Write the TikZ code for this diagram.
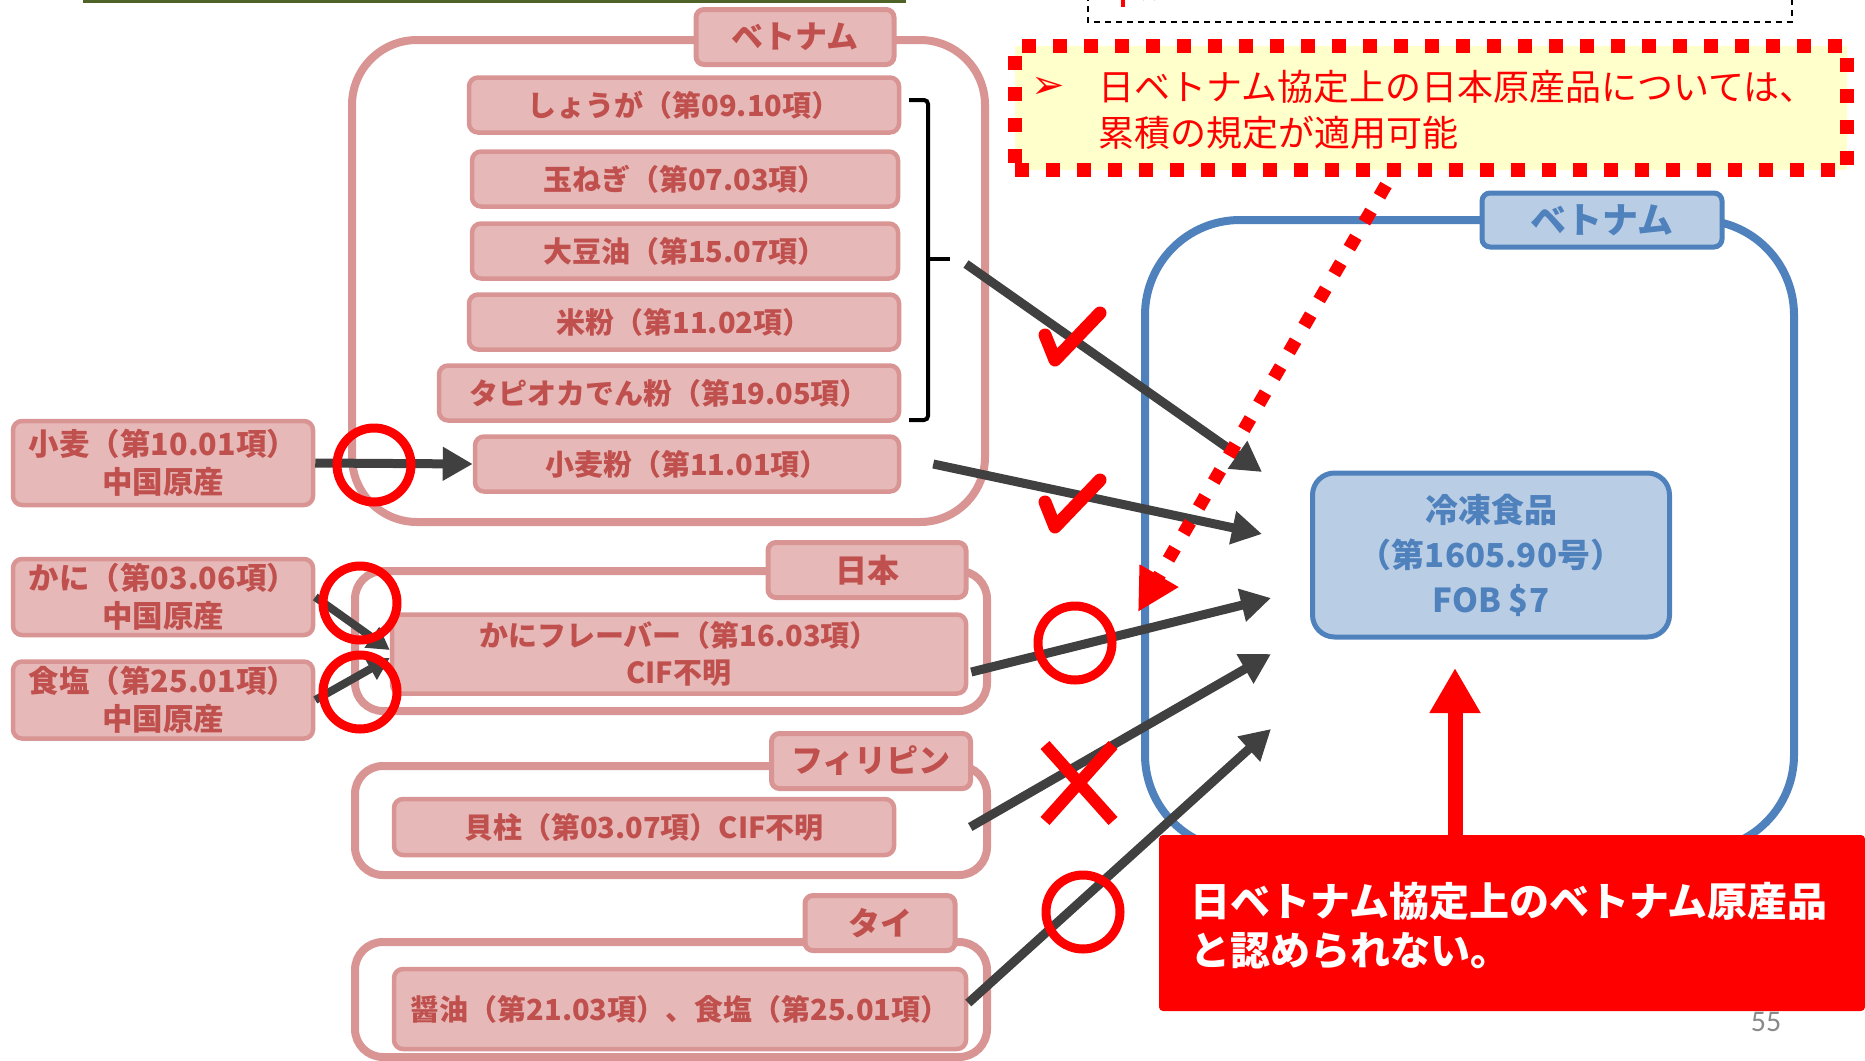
\documentclass[tikz,border=0pt]{standalone}
\usepackage{fontspec}
\setmainfont{Noto Sans CJK JP}
\newfontfamily\dingfont{DejaVu Sans}
\newfontfamily\pagefont{Carlito}
\usetikzlibrary{arrows.meta}
\definecolor{pinkline}{HTML}{D99594}
\definecolor{pinkfill}{HTML}{E6B9B8}
\definecolor{pinktext}{HTML}{C0504D}
\definecolor{blueline}{HTML}{4F81BD}
\definecolor{bluefill}{HTML}{B9CDE5}
\definecolor{arrowgray}{HTML}{404040}
\definecolor{noteyellow}{HTML}{FFFFCC}
\definecolor{olivegreen}{HTML}{4F6228}
\definecolor{pagegray}{HTML}{898989}
\begin{document}
\begin{tikzpicture}[x=1pt, y=-1pt,
	pinkframe/.style={draw=pinkline, line width=8pt},
	pinktab/.style={draw=pinkline, fill=pinkfill, line width=5pt, rounded corners=8pt, text=pinktext, font=\fontsize{32}{38}\selectfont\bfseries, minimum height=55pt, inner sep=0pt},
	pinkitem/.style={draw=pinkline, fill=pinkfill, line width=4.5pt, rounded corners=9pt, text=pinktext, font=\fontsize{29}{37}\selectfont\bfseries, minimum height=55pt, inner sep=0pt, align=center},
	inputitem/.style={pinkitem, minimum width=300pt, font=\fontsize{30.5}{38}\selectfont\bfseries},
	bluetab/.style={draw=blueline, fill=bluefill, line width=5pt, rounded corners=8pt, text=blueline, font=\fontsize{36}{40}\selectfont\bfseries, minimum height=54pt, inner sep=0pt},
	prodbox/.style={draw=blueline, fill=bluefill, line width=5pt, rounded corners=22pt, text=blueline, font=\fontsize{33}{45}\selectfont\bfseries, align=center, inner sep=0pt},
	grayarrow/.style={draw=arrowgray, line width=9pt, -{Triangle[length=30pt,width=32pt]}},
	smallhead/.style={line width=8pt, -{Triangle[length=22pt,width=24pt]}},
	redring/.style={draw=red, line width=9pt, circle, minimum size=74pt, inner sep=0pt},
	notebox/.style={draw=red, fill=noteyellow, line width=14pt, dash pattern=on 14pt off 17pt, minimum width=832pt, minimum height=124pt},
	checkmk/.pic={\draw[red, line width=13pt, line cap=round, line join=round] (-27,-4) -- (-17,21) -- (28,-26);},
	crossmk/.pic={\draw[red, line width=12pt] (-34,-38) -- (34,38) (34,-38) -- (-34,38);}]
	\useasboundingbox (0,0) rectangle (1865,1060);
	%Cut-off boxes at the top:
	\draw[olivegreen, line width=4pt] (83,1) -- (906,1);
	\draw[black, line width=2pt, dash pattern=on 6pt off 5pt] (1088,-5) -- (1088,22) -- (1792,22) -- (1792,-5);
	\fill[red] (1121,-2) rectangle (1125,7);
	\draw[black, line width=2pt] (1143,0) arc[start angle=180, end angle=0, x radius=6, y radius=-6];
	%Vietnam (left):
	\draw[pinkframe, rounded corners=65pt] (352,40) rectangle (985,522);
	\path
		(795,37) node[pinktab, minimum width=198pt] (vnTab) {ベトナム}
		(684,105) node[pinkitem, minimum width=430pt] (ginger) {しょうが（第09.10項）}
		(685,179) node[pinkitem, minimum width=426pt] (onion) {玉ねぎ（第07.03項）}
		(685,251) node[pinkitem, minimum width=426pt] (soybean) {大豆油（第15.07項）}
		(684,322) node[pinkitem, minimum width=430pt] (rice) {米粉（第11.02項）}
		(669,393) node[pinkitem, minimum width=460pt] (tapioca) {タピオカでん粉（第19.05項）}
		(687,464) node[pinkitem, minimum width=424pt] (flour) {小麦粉（第11.01項）};
	\draw[black, line width=4pt, rounded corners=4pt] (909,100) -- (928,100) -- (928,420) -- (909,420);
	\draw[black, line width=4pt] (928,259) -- (950,259);
	\coordinate (brace) at (966,264);
	%Chinese inputs:
	\path
		(163,463) node[inputitem, minimum height=84pt] (wheat) {小麦（第10.01項）\\中国原産}
		(163,597) node[inputitem, minimum height=76pt] (crab) {かに（第03.06項）\\中国原産}
		(163,700) node[inputitem, minimum height=77pt] (salt) {食塩（第25.01項）\\中国原産};
	%Japan:
	\draw[pinkframe, rounded corners=28pt] (355,571) rectangle (987,711);
	\path
		(867,570) node[pinktab, minimum width=198pt] (jpTab) {日本}
		(679,654) node[pinkitem, minimum width=574pt, minimum height=79pt] (flavor) {かにフレーバー（第16.03項）\\CIF不明};
	%Philippines:
	\draw[pinkframe, rounded corners=28pt] (355,766) rectangle (987,875);
	\path
		(871,761) node[pinktab, minimum width=199pt] (phTab) {フィリピン}
		(644,827) node[pinkitem, minimum width=500pt, minimum height=56pt] (scallop) {貝柱（第03.07項）CIF不明};
	%Thailand:
	\draw[pinkframe, rounded corners=28pt] (355,942) rectangle (987,1057);
	\path
		(880,923) node[pinktab, minimum width=150pt] (thTab) {タイ}
		(680,1009) node[pinkitem, minimum width=572pt, minimum height=80pt] (soysauce) {醤油（第21.03項）、食塩（第25.01項）};
	%Vietnam (right):
	\draw[blueline, line width=8pt, rounded corners=95pt] (1145,220) rectangle (1794,850);
	\path
		(1602,220) node[bluetab, minimum width=240pt] (vnTab2) {ベトナム}
		(1491,555) node[prodbox, minimum width=357pt, minimum height=164pt] (frozen) {冷凍食品\\（第1605.90号）\\FOB \$7};
	\coordinate (tipA) at (1262,472);
	\coordinate (tipB) at (1262,534);
	\coordinate (tipC) at (1271,598);
	\coordinate (tipD) at (1271,654);
	\coordinate (tipE) at (1271,729);
	%Input arrows:
	\draw[grayarrow] (wheat.east) -- (flour.west);
	\draw[grayarrow, smallhead] (crab.east) -- ([yshift=4pt]flavor.west);
	\draw[grayarrow, smallhead] (salt.east) -- ([yshift=-4pt]flavor.west);
	\draw[grayarrow] (brace) -- (tipA);
	\draw[grayarrow] ([xshift=32pt]flour.east) -- (tipB);
	\draw[grayarrow] ([shift={(3,18)}]flavor.east) -- (tipC);
	\draw[grayarrow] ([xshift=74pt]scallop.east) -- (tipD);
	\draw[grayarrow] ([shift={(0,-6)}]soysauce.east) -- (tipE);
	%Marks:
	\path
		(374,465) node[redring] (ringWheat) {}
		(360,603) node[redring] (ringCrab) {}
		(360,692) node[redring] (ringSalt) {}
		(1075,643) node[redring] (ringFlavor) {}
		(1083,912) node[redring] (ringSoy) {};
	\pic at (1072,339) {checkmk};
	\pic at (1072,506) {checkmk};
	\pic at (1079,783) {crossmk};
	%Cumulation note:
	\path
		(1431,108) node[notebox] (note) {}
		(1048,88) node[text=red, font=\dingfont\fontsize{40}{40}\selectfont] (bullet) {➢}
		(1098,110) node[anchor=west, align=left, text=red, inner sep=0pt, font=\fontsize{36}{46}\selectfont] (noteText) {日ベトナム協定上の日本原産品については、\\累積の規定が適用可能};
	\draw[red, line width=13pt, dash pattern=on 13pt off 17pt, -{Triangle[length=42pt,width=42pt]}]
		([xshift=-45pt, yshift=-8pt]note.south) -- (1138,612);
	%Verdict:
	\path
		(1512,923) node[fill=red, rounded corners=4pt, minimum width=706pt, minimum height=176pt] (verdict) {}
		(1190,926) node[anchor=west, align=left, text=white, inner sep=0pt, font=\fontsize{40}{49}\selectfont\bfseries] (verdictText) {日ベトナム協定上のベトナム原産品\\と認められない。};
	\coordinate (belowFrozen) at (1455,668);
	\draw[red, line width=15pt, -{Triangle[length=45pt,width=48pt]}] ([xshift=-57pt]verdict.north) -- (belowFrozen);
	\node[text=pagegray, font=\pagefont\fontsize{30}{30}\selectfont] (pageNo) at (1766,1022) {55};
\end{tikzpicture}
\end{document}
